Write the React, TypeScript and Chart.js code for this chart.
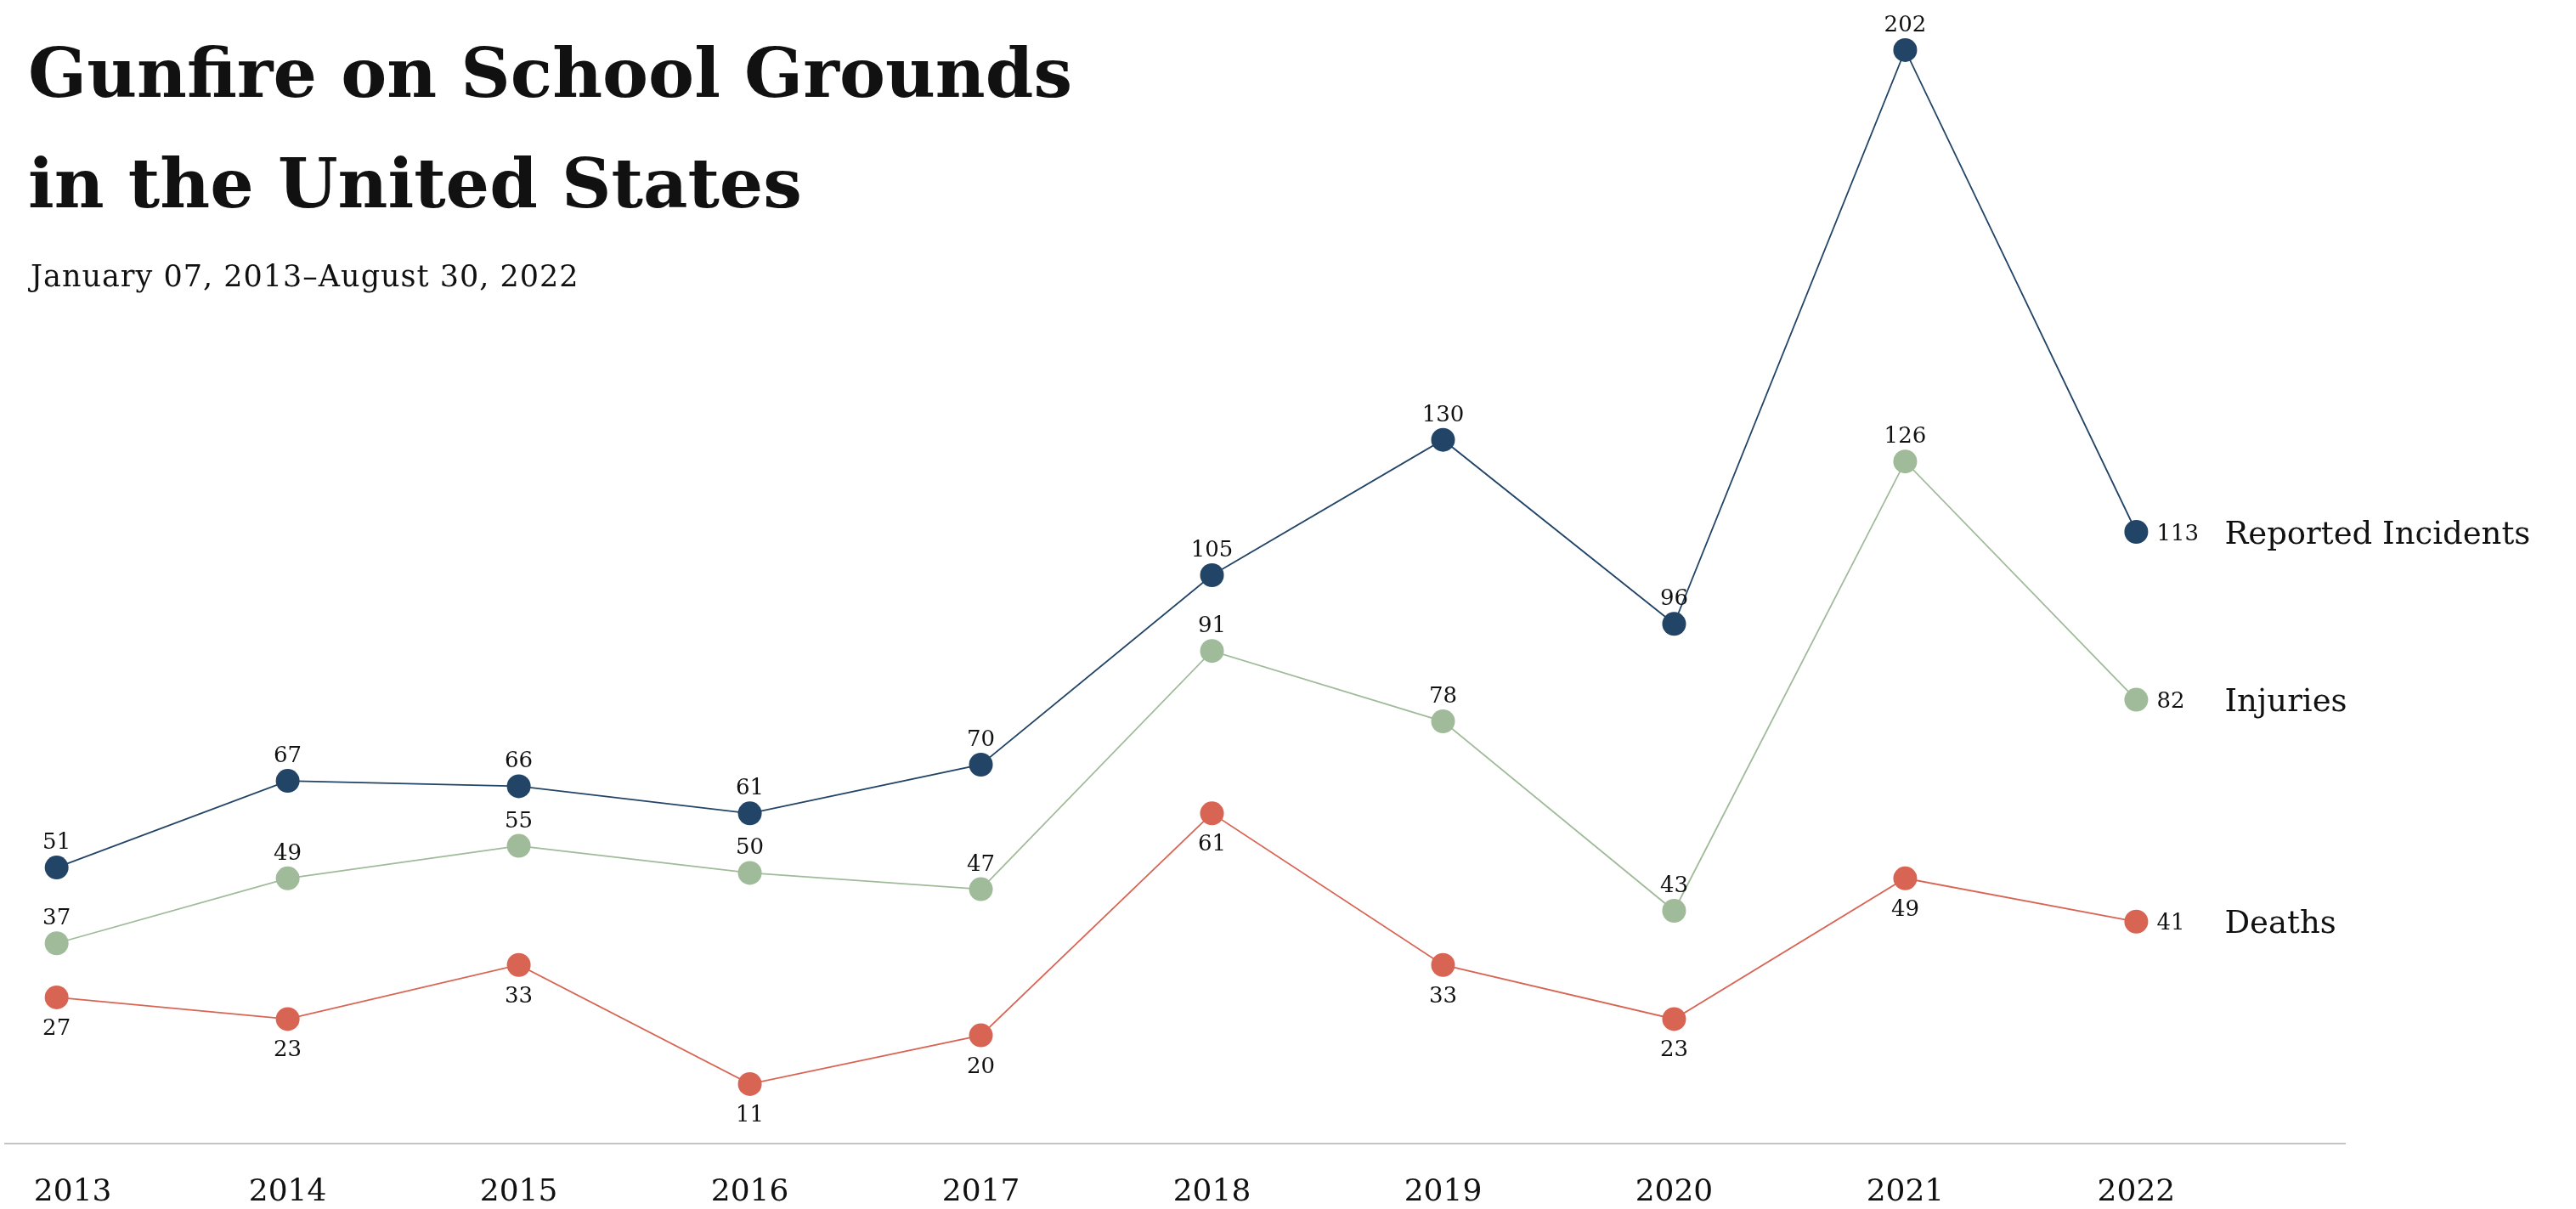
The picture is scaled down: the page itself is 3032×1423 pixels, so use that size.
import React, { useEffect, useRef } from "react";
import { Chart, registerables } from "chart.js";

Chart.register(...registerables);

// ---- data ----
const YEARS = [2013, 2014, 2015, 2016, 2017, 2018, 2019, 2020, 2021, 2022];
const REPORTED_INCIDENTS = [51, 67, 66, 61, 70, 105, 130, 96, 202, 113];
const INJURIES = [37, 49, 55, 50, 47, 91, 78, 43, 126, 82];
const DEATHS = [27, 23, 33, 11, 20, 61, 33, 23, 49, 41];
const SERIES_NAMES = ["Reported Incidents", "Injuries", "Deaths"];
const TITLE_LINES = ["Gunfire on School Grounds", "in the United States"];
const SUBTITLE = "January 07, 2013\u2013August 30, 2022";

// ---- styles ----
const COLORS = ["#224466", "#a0bb9a", "#d86554"];
const LABEL_SIDE = ["above", "above", "below"];
const FONT = '"DejaVu Serif", "Liberation Serif", serif';
const W = 3032;
const H = 1423;
const X_MIN = 2012.777;
const X_MAX = 2022.903;
const Y_MAX = 211.25;
const FIRST_TICK_SHIFT = 19;

const pointLabelPlugin = {
  id: "pointLabels",
  beforeDraw(chart: any) {
    // nudge the first year label inward so it lines up with the title's left edge
    try {
      const xs = chart.scales.x;
      const items = xs.getLabelItems(chart.chartArea);
      if (items && items.length && !items[0].__shifted) {
        const t = items[0].options.translation;
        items[0].options.translation = [t[0] + FIRST_TICK_SHIFT, t[1]];
        items[0].__shifted = true;
      }
    } catch (e) {
      // ignore
    }
  },
  afterDatasetsDraw(chart: any) {
    const ctx = chart.ctx;
    ctx.save();
    ctx.fillStyle = "#111111";
    ctx.textBaseline = "alphabetic";
    chart.data.datasets.forEach((ds: any, di: number) => {
      const meta = chart.getDatasetMeta(di);
      const n = meta.data.length;
      ctx.font = `26px ${FONT}`;
      meta.data.forEach((pt: any, i: number) => {
        const v = String(ds.data[i].y);
        if (i === n - 1) {
          ctx.textAlign = "left";
          ctx.fillText(v, pt.x + 24, pt.y + 9.5);
        } else if (LABEL_SIDE[di] === "above") {
          ctx.textAlign = "center";
          ctx.fillText(v, pt.x, pt.y - 22);
        } else {
          ctx.textAlign = "center";
          ctx.fillText(v, pt.x, pt.y + 44);
        }
      });
      const last = meta.data[n - 1];
      ctx.font = `37px ${FONT}`;
      ctx.textAlign = "left";
      ctx.fillText(ds.label, last.x + 104, last.y + 13.5);
    });
    ctx.restore();
  },
};

export default function App() {
  const canvasRef = useRef<HTMLCanvasElement | null>(null);

  useEffect(() => {
    document.body.style.margin = "0";
    document.body.style.overflow = "hidden";
    const canvas = canvasRef.current;
    if (!canvas) return;
    const seriesValues = [REPORTED_INCIDENTS, INJURIES, DEATHS];
    const chart = new Chart(canvas, {
      type: "line",
      data: {
        datasets: seriesValues.map((vals, si) => ({
          label: SERIES_NAMES[si],
          data: YEARS.map((yr, i) => ({ x: yr, y: vals[i] })),
          borderColor: COLORS[si],
          backgroundColor: COLORS[si],
          pointBackgroundColor: COLORS[si],
          pointBorderWidth: 0,
          pointRadius: 14,
          pointHoverRadius: 14,
          borderWidth: 1.8,
          tension: 0,
          clip: false as any,
          order: 3 - si,
        })),
      },
      options: {
        animation: false,
        responsive: false,
        devicePixelRatio: 1,
        events: [],
        layout: {
          autoPadding: false,
          padding: { left: 6, right: W - 2760, top: 0, bottom: 0 },
        },
        plugins: {
          legend: { display: false },
          tooltip: { enabled: false },
          title: { display: false },
        },
        scales: {
          x: {
            type: "linear",
            min: X_MIN,
            max: X_MAX,
            grid: { display: false, drawTicks: false },
            border: { display: true, color: "#c4c4c4", width: 2 },
            ticks: {
              font: { family: FONT, size: 36 },
              color: "#111111",
              padding: 36,
              maxRotation: 0,
              autoSkip: false,
              callback: (v: any) => String(v),
            },
            afterBuildTicks: (s: any) => {
              s.ticks = YEARS.map((v) => ({ value: v }));
            },
            afterFit: (s: any) => {
              s.height = 77;
              s.paddingLeft = 0;
              s.paddingRight = 0;
            },
          },
          y: { display: false, min: 0, max: Y_MAX },
        },
      },
      plugins: [pointLabelPlugin],
    } as any);
    return () => chart.destroy();
  }, []);

  return (
    <div
      style={{
        position: "absolute",
        left: 0,
        top: 0,
        width: W,
        height: H,
        background: "#ffffff",
        overflow: "hidden",
      }}
    >
      <canvas
        ref={canvasRef}
        width={W}
        height={H}
        style={{ position: "absolute", left: 0, top: 0, width: W, height: H }}
      />
      <div
        style={{
          position: "absolute",
          left: 33,
          top: 21,
          fontFamily: FONT,
          fontWeight: 700,
          fontSize: 81,
          lineHeight: "130px",
          color: "#111111",
          whiteSpace: "nowrap",
        }}
      >
        {TITLE_LINES[0]}
        <br />
        {TITLE_LINES[1]}
      </div>
      <div
        style={{
          position: "absolute",
          left: 36,
          top: 305,
          fontFamily: FONT,
          fontSize: 35,
          lineHeight: "40px",
          letterSpacing: 1,
          color: "#111111",
          whiteSpace: "nowrap",
        }}
      >
        {SUBTITLE}
      </div>
    </div>
  );
}
